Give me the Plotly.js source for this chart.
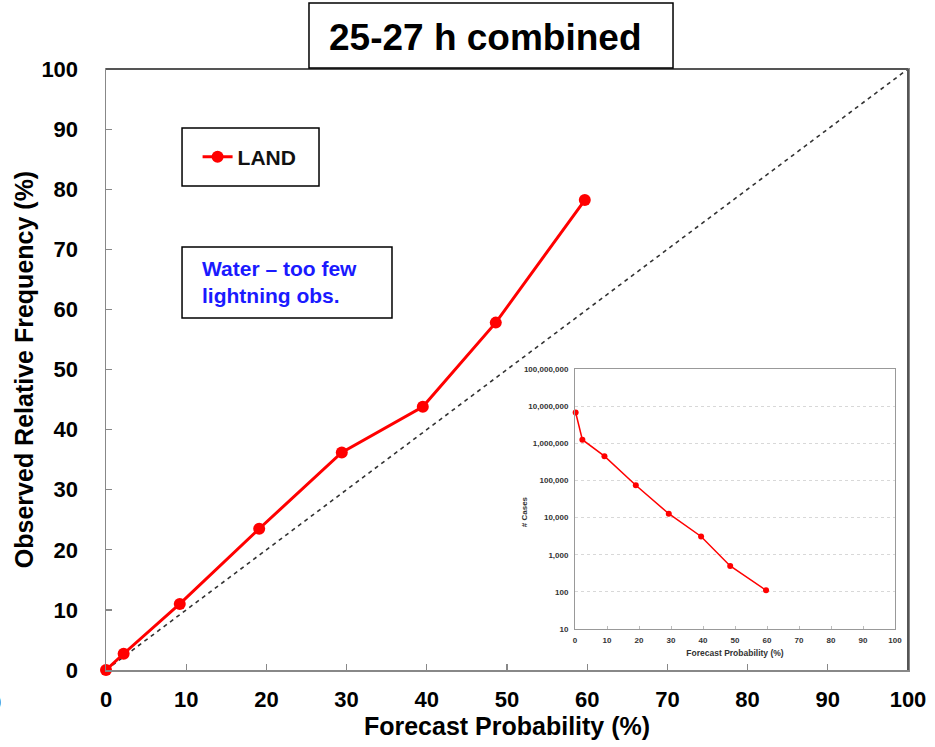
<!DOCTYPE html>
<html>
<head>
<meta charset="utf-8">
<script src="https://cdn.plot.ly/plotly-3.0.1.min.js"></script>
<style>html,body{margin:0;padding:0;background:#fff;}#chart{width:935px;height:747px;}</style>
</head>
<body>
<div id="chart"></div>
<script>
// Main reliability diagram (LAND)
const landProb = [0, 2.2, 9.2, 19.1, 29.4, 39.5, 48.6, 59.7];
const landObs  = [0, 2.7, 11.0, 23.5, 36.2, 43.8, 57.8, 78.2];
// Perfect reliability diagonal
const diagX = [0, 100];
const diagY = [0, 100];
// Inset: number of cases per forecast bin
const caseProb  = [0.2, 2.3, 9.2, 19.0, 29.3, 39.4, 48.5, 59.7];
const caseCount = [6800000, 1250000, 450000, 74000, 12700, 3100, 500, 110];
// Tick labels
const mainTicks = [0, 10, 20, 30, 40, 50, 60, 70, 80, 90, 100];
const insetYVals = [10, 100, 1000, 10000, 100000, 1000000, 10000000, 100000000];
const insetYText = ['10', '100', '1,000', '10,000', '100,000', '1,000,000', '10,000,000', '100,000,000'];

const FONT = 'Arial, "Liberation Sans", sans-serif';

const traces = [
  {x: diagX, y: diagY, type: 'scatter', mode: 'lines', showlegend: false, hoverinfo: 'skip',
   line: {color: '#333', width: 1.6, dash: '4px,4px'}, xaxis: 'x', yaxis: 'y'},
  {x: landProb, y: landObs, type: 'scatter', mode: 'lines+markers', name: 'LAND',
   line: {color: '#ff0000', width: 3}, marker: {color: '#ff0000', size: 12},
   xaxis: 'x', yaxis: 'y', cliponaxis: false},
  {x: caseProb, y: caseCount, type: 'scatter', mode: 'lines+markers', showlegend: false,
   line: {color: '#ff0000', width: 1.5}, marker: {color: '#ff0000', size: 6},
   xaxis: 'x2', yaxis: 'y2', cliponaxis: false}
];

const layout = {
  width: 935, height: 747,
  margin: {l: 106, r: 27, t: 69, b: 77},
  paper_bgcolor: '#fff', plot_bgcolor: '#fff',
  font: {family: FONT, color: '#000'},
  showlegend: true,
  legend: {x: 0.1142, y: 0.8536, xanchor: 'left', yanchor: 'middle', bgcolor: 'rgba(0,0,0,0)',
           borderwidth: 0, font: {family: FONT, size: 21, weight: 'bold', color: '#111'}},
  xaxis: {
    domain: [0, 1], range: [0, 100], tickvals: mainTicks, showgrid: false, zeroline: false,
    showline: true, linecolor: '#888', linewidth: 1.5, mirror: true,
    ticks: 'inside', ticklen: 6, tickcolor: '#888', tickwidth: 1.2,
    ticklabelstandoff: 9,
    tickfont: {family: FONT, size: 22, weight: 'bold', color: '#000'},
    title: {text: 'Forecast Probability (%)', standoff: 0,
            font: {family: FONT, size: 25, weight: 'bold', color: '#000'}}
  },
  yaxis: {
    domain: [0, 1], range: [0, 100], tickvals: mainTicks, showgrid: false, zeroline: false,
    showline: true, linecolor: '#888', linewidth: 1.5, mirror: true,
    ticks: 'inside', ticklen: 6, tickcolor: '#888', tickwidth: 1.2,
    ticklabelstandoff: 22,
    tickfont: {family: FONT, size: 22, weight: 'bold', color: '#000'},
    title: {text: 'Observed Relative Frequency (%)', standoff: 0,
            font: {family: FONT, size: 25, weight: 'bold', color: '#000'}}
  },
  xaxis2: {
    domain: [0.5848, 0.9838], anchor: 'y2', range: [0, 100], dtick: 10, showgrid: false, zeroline: false,
    showline: true, linecolor: '#999', linewidth: 1, mirror: true,
    ticks: 'inside', ticklen: 3, tickcolor: '#bbb',
    ticklabelstandoff: 3,
    tickfont: {family: FONT, size: 8, weight: 'bold', color: '#333'},
    title: {text: 'Forecast Probability (%)', standoff: 6,
            font: {family: FONT, size: 8.5, weight: 'bold', color: '#333'}}
  },
  yaxis2: {
    domain: [0.0682, 0.5008], anchor: 'x2', type: 'log', range: [1, 8],
    tickvals: insetYVals, ticktext: insetYText, showgrid: true, gridcolor: '#d8d8d8', griddash: 'dot', gridwidth: 1,
    zeroline: false, showline: true, linecolor: '#999', linewidth: 1, mirror: true, ticks: '',
    ticklabelstandoff: 4,
    tickfont: {family: FONT, size: 8, weight: 'bold', color: '#333'}
  },
  shapes: [
    {type: 'line', xref: 'paper', yref: 'paper', x0: 0, x1: 1, y0: 1, y1: 1, line: {color: '#555', width: 2}},
    {type: 'line', xref: 'paper', yref: 'paper', x0: 1, x1: 1, y0: 0, y1: 1, line: {color: '#555', width: 2}},
    {type: 'rect', xref: 'paper', yref: 'paper', x0: 0.2531, x1: 0.707, y0: 1.0017, y1: 1.1098,
     line: {color: '#000', width: 1.5}, fillcolor: '#fff'},
    {type: 'rect', xref: 'paper', yref: 'paper', x0: 0.0948, x1: 0.2656, y0: 0.8053, y1: 0.9018,
     line: {color: '#000', width: 1.5}, fillcolor: 'rgba(0,0,0,0)'},
    {type: 'rect', xref: 'paper', yref: 'paper', x0: 0.0948, x1: 0.3566, y0: 0.5857, y1: 0.7038,
     line: {color: '#000', width: 1.5}, fillcolor: 'rgba(0,0,0,0)'}
  ],
  annotations: [
    {text: '25-27 h combined', xref: 'paper', yref: 'paper', x: 0.4738, y: 1.0532,
     xanchor: 'center', yanchor: 'middle', showarrow: false,
     font: {family: FONT, size: 37, weight: 'bold', color: '#000'}},
    {text: 'Water \u2013 too few<br>lightning obs.', xref: 'paper', yref: 'paper', x: 0.117, y: 0.6448,
     xanchor: 'left', yanchor: 'middle', align: 'left', showarrow: false,
     font: {family: FONT, size: 21, weight: 'bold', color: '#1a1aff'}},
    {text: '# Cases', xref: 'paper', yref: 'paper', x: 0.5227, y: 0.2629, textangle: -90,
     xanchor: 'center', yanchor: 'middle', showarrow: false,
     font: {family: FONT, size: 8, weight: 'bold', color: '#333'}},
    {text: '0', xref: 'paper', yref: 'paper', x: -0.1283, y: -0.03, xanchor: 'right', yanchor: 'top',
     showarrow: false, font: {family: FONT, size: 22, weight: 'bold', color: '#000'}}
  ]
};

Plotly.newPlot('chart', traces, layout, {displayModeBar: false, staticPlot: true});
</script>
</body>
</html>
